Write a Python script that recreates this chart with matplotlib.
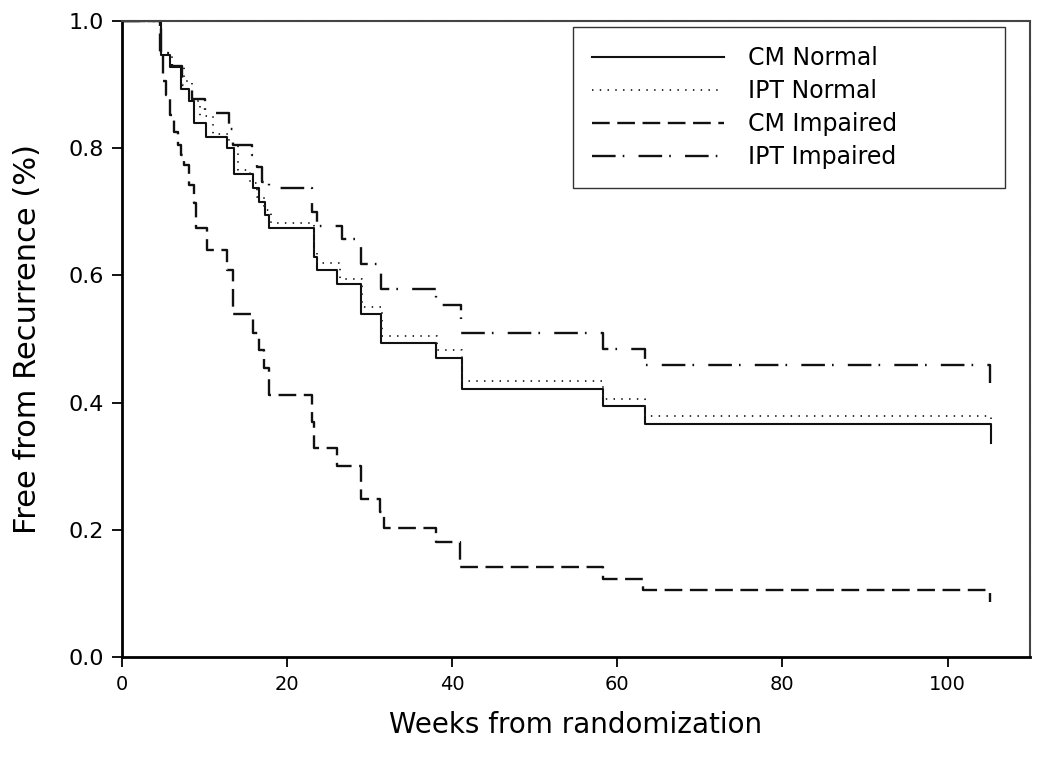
import matplotlib
matplotlib.use("Agg")
import matplotlib.pyplot as plt

# survival curves (weeks, fraction free from recurrence)
cm_normal_weeks = [0, 4.7, 5.8, 7.1, 8.1, 8.7, 10.2, 12.7, 13.6, 15.9, 16.6, 17.3, 17.8,
                   23.2, 23.6, 26.1, 28.9, 31.4, 38.0, 41.2, 58.3, 63.3, 105.3]
cm_normal_surv = [1.0, 0.947, 0.927, 0.893, 0.874, 0.839, 0.818, 0.800, 0.759, 0.738, 0.716, 0.695, 0.675,
                  0.629, 0.608, 0.586, 0.540, 0.493, 0.470, 0.421, 0.394, 0.367, 0.336]

ipt_normal_weeks = [0, 4.7, 6.0, 7.5, 8.5, 9.5, 11.0, 13.0, 14.0, 15.5, 16.3, 17.2, 18.0,
                    23.2, 23.6, 26.4, 29.1, 31.5, 38.2, 41.2, 58.3, 63.3, 105.3]
ipt_normal_surv = [1.0, 0.95, 0.93, 0.905, 0.875, 0.85, 0.823, 0.807, 0.766, 0.745, 0.724, 0.703, 0.683,
                   0.64, 0.619, 0.595, 0.551, 0.505, 0.482, 0.434, 0.406, 0.379, 0.373]

cm_impaired_weeks = [0, 4.6, 5.0, 5.3, 5.8, 6.3, 6.8, 7.1, 7.5, 8.1, 8.7, 9.0, 10.3, 12.7, 13.5,
                     15.9, 16.6, 17.2, 17.8, 23.0, 23.3, 26.1, 28.9, 31.3, 31.7, 38.0, 41.0,
                     58.3, 63.1, 105.1]
cm_impaired_surv = [1.0, 0.95, 0.905, 0.884, 0.852, 0.826, 0.805, 0.79, 0.774, 0.742, 0.714, 0.675, 0.64,
                    0.608, 0.54, 0.509, 0.483, 0.454, 0.412, 0.37, 0.328, 0.300, 0.249, 0.228, 0.203,
                    0.181, 0.142, 0.122, 0.105, 0.087]

ipt_impaired_weeks = [0, 4.7, 6.0, 7.3, 8.5, 10.1, 13.0, 13.5, 15.8, 16.3, 17.0, 17.8, 23.0, 23.6,
                      26.6, 28.9, 31.4, 38.0, 41.1, 58.3, 63.3, 105.1]
ipt_impaired_surv = [1.0, 0.95, 0.93, 0.90, 0.878, 0.856, 0.83, 0.805, 0.79, 0.771, 0.747, 0.737, 0.70,
                     0.678, 0.658, 0.618, 0.578, 0.553, 0.509, 0.484, 0.459, 0.431]

labels = ["CM Normal", "IPT Normal", "CM Impaired", "IPT Impaired"]
x_ticks = [0, 20, 40, 60, 80, 100]
y_ticks = [0.0, 0.2, 0.4, 0.6, 0.8, 1.0]

# plot data
figure, axes = plt.subplots(figsize=(10.5, 7.7), dpi=100)
figure.subplots_adjust(left=0.1162, right=0.981, top=0.9727, bottom=0.1468)

axes.plot(cm_normal_weeks, cm_normal_surv, drawstyle="steps-post", color="#111111",
          linewidth=1.5, linestyle="-", label=labels[0])
axes.plot(ipt_normal_weeks, ipt_normal_surv, drawstyle="steps-post", color="#222222",
          linewidth=1.3, linestyle=(0, (0.8, 3.5)), label=labels[1])
axes.plot(cm_impaired_weeks, cm_impaired_surv, drawstyle="steps-post", color="#111111",
          linewidth=1.7, linestyle=(0, (7.5, 3.2)), label=labels[2])
axes.plot(ipt_impaired_weeks, ipt_impaired_surv, drawstyle="steps-post", color="#111111",
          linewidth=1.7, linestyle=(0, (10, 3, 0.7, 6)), label=labels[3])

# axes and labels
axes.set_xlim(0, 110)
axes.set_ylim(0, 1.0)
axes.set_xticks(x_ticks)
axes.set_yticks(y_ticks)
axes.set_yticklabels([f"{v:.1f}" for v in y_ticks])
axes.tick_params(axis="both", direction="out", length=7, width=1.3, pad=6)
axes.tick_params(axis="x", labelsize=14)
axes.tick_params(axis="y", labelsize=16)
axes.set_xlabel("Weeks from randomization", fontsize=20, labelpad=12)
axes.set_ylabel("Free from Recurrence (%)", fontsize=22, labelpad=19)

for side in ["left", "bottom"]:
    axes.spines[side].set_linewidth(2.0)
for side in ["top", "right"]:
    axes.spines[side].set_linewidth(1.5)
    axes.spines[side].set_color("#444444")
    axes.spines[side].set_linestyle((0, (1.5, 0.8)))

# legend box
legend = axes.legend(loc="upper left", bbox_to_anchor=(0.5457, 0.7584, 0.4114, 0.2065),
                     bbox_transform=figure.transFigure, mode="expand", fontsize=17,
                     frameon=True, fancybox=False, borderpad=0.8, borderaxespad=0,
                     handlelength=5.6, handletextpad=1.0, labelspacing=0.38)
legend.get_frame().set_edgecolor("black")
legend.get_frame().set_linewidth(1.0)

figure.savefig("out.png", dpi=100)
